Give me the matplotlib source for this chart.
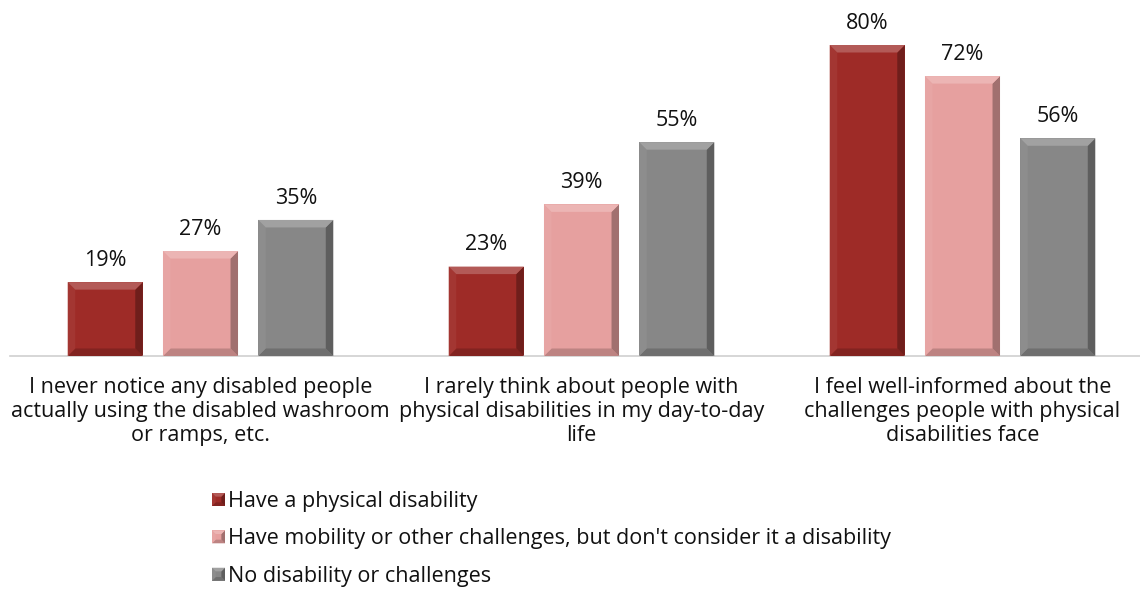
import matplotlib
matplotlib.use("Agg")
import matplotlib.pyplot as plt
import numpy as np
from matplotlib.patches import Polygon, Rectangle
from matplotlib.transforms import IdentityTransform
from matplotlib.legend_handler import HandlerBase
import matplotlib.colors as mcolors

plt.rcParams['font.family'] = ['Open Sans', 'DejaVu Sans']

categories = [
    "I never notice any disabled people\nactually using the disabled washroom\nor ramps, etc.",
    "I rarely think about people with\nphysical disabilities in my day-to-day\nlife",
    "I feel well-informed about the\nchallenges people with physical\ndisabilities face",
]
series_names = [
    "Have a physical disability",
    "Have mobility or other challenges, but don't consider it a disability",
    "No disability or challenges",
]
values = [
    [19, 23, 80],
    [27, 39, 72],
    [35, 55, 56],
]
colors = ["#9E2B27", "#E6A09F", "#878787"]

FS = 15.5
TXT = '#111111'


def shade(color, amount):
    """Blend towards white (amount>0) or black (amount<0)."""
    c = np.array(mcolors.to_rgb(color))
    if amount >= 0:
        c = c + (1 - c) * amount
    else:
        c = c * (1 + amount)
    return tuple(np.clip(c, 0, 1))


def bevel_polys(x0, y0, x1, y1, b, color):
    top = [(x0, y1), (x1, y1), (x1 - b, y1 - b), (x0 + b, y1 - b)]
    left = [(x0, y0), (x0, y1), (x0 + b, y1 - b), (x0 + b, y0 + b)]
    right = [(x1, y0), (x1, y1), (x1 - b, y1 - b), (x1 - b, y0 + b)]
    bottom = [(x0, y0), (x1, y0), (x1 - b, y0 + b), (x0 + b, y0 + b)]
    return [
        (bottom, shade(color, -0.18)),
        (left, shade(color, 0.05)),
        (right, shade(color, -0.30)),
        (top, shade(color, 0.22)),
    ]


class BevelHandler(HandlerBase):
    def create_artists(self, legend, orig_handle, xdescent, ydescent,
                       width, height, fontsize, trans):
        color = orig_handle.get_facecolor()
        s = min(width, height)
        x0 = -xdescent + (width - s) / 2
        y0 = -ydescent + (height - s) / 2
        x1, y1 = x0 + s, y0 + s
        arts = [Rectangle((x0, y0), s, s, facecolor=color, edgecolor='none', transform=trans)]
        for pts, c in bevel_polys(x0, y0, x1, y1, s * 0.28, color):
            arts.append(Polygon(pts, closed=True, facecolor=c, edgecolor='none', transform=trans))
        return arts


fig = plt.figure(figsize=(11.4, 6.02), dpi=100)
ax = fig.add_axes([10 / 1140, 1 - 356 / 602, 1143 / 1140, 356 / 602])

x = np.arange(len(categories))
bar_w = 0.197
step = 0.25
bars_all = []
for i, (name, vals, col) in enumerate(zip(series_names, values, colors)):
    bars = ax.bar(x + (i - 1) * step, vals, width=bar_w, color=col, label=name,
                  edgecolor='none', zorder=2)
    bars_all.append((bars, col))
    for rect, v in zip(bars, vals):
        ax.annotate(f"{v}%", (rect.get_x() + rect.get_width() / 2, v),
                    xytext=(0, 11.8), textcoords='offset points',
                    ha='center', va='baseline', fontsize=FS, color=TXT)

ax.set_xlim(-0.5, 2.5)
ax.set_ylim(0, 356 / 3.8875)
for s in ['top', 'right', 'left']:
    ax.spines[s].set_visible(False)
ax.spines['bottom'].set_color('#D0D0D0')
ax.spines['bottom'].set_linewidth(1.2)
ax.set_yticks([])
ax.set_xticks(x)
ax.set_xticklabels(categories, fontsize=FS, color=TXT, linespacing=1.18)
ax.tick_params(axis='x', length=0, pad=15)

# bevelled faces on each bar, drawn in pixel space
fig.canvas.draw()
for bars, col in bars_all:
    for rect in bars:
        (px0, py0) = ax.transData.transform((rect.get_x(), 0))
        (px1, py1) = ax.transData.transform((rect.get_x() + rect.get_width(), rect.get_height()))
        for pts, c in bevel_polys(px0, py0, px1, py1, 7.5, col):
            fig.patches.append(Polygon(pts, closed=True, facecolor=c, edgecolor='none',
                                       transform=IdentityTransform(), zorder=3))

handles = [Rectangle((0, 0), 1, 1, facecolor=c) for c in colors]
leg = fig.legend(handles, series_names, loc='upper left',
                 bbox_to_anchor=(197 / 1140, 1 - 476 / 602), frameon=False,
                 fontsize=FS, handlelength=0.6, handleheight=0.6,
                 handletextpad=0.15, labelspacing=0.76, borderpad=0.2,
                 handler_map={Rectangle: BevelHandler()})
for t in leg.get_texts():
    t.set_color(TXT)

fig.savefig("out.png", dpi=100)
